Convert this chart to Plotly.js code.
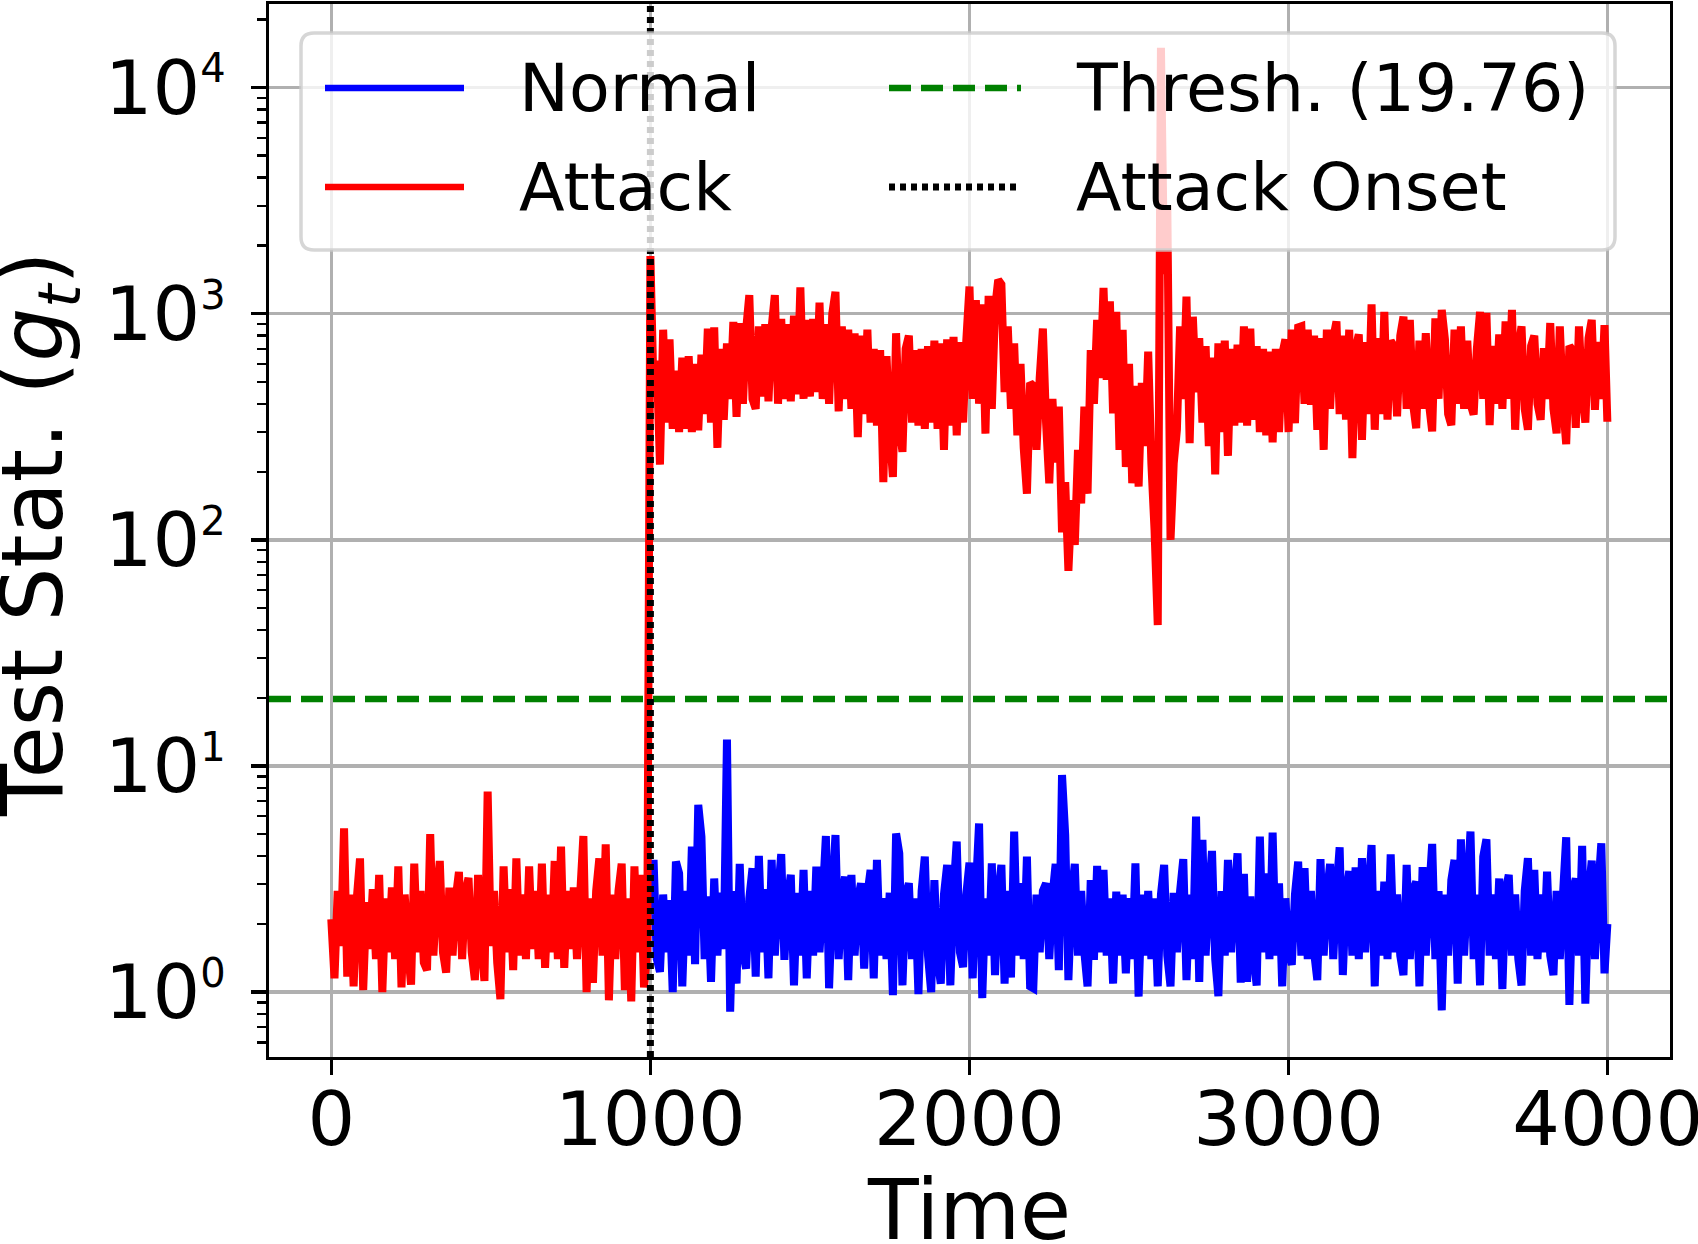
<!DOCTYPE html>
<html>
<head>
<meta charset="utf-8">
<script src="https://cdn.plot.ly/plotly-3.0.1.min.js"></script>
<style>
  html, body { margin: 0; padding: 0; background: #ffffff; }
  #chart { width: 1698px; height: 1244px; }
</style>
</head>
<body>
<div id="chart"></div>
<script>
// ---------------- DATA ----------------
const sampleStep = 10;          // time between stored samples
const attackStart = 0;          // first time of the attack series
const normalStart = 1000;       // first time of the visible normal series
const lastTime = 3999;
const attackOnset = 1000;
const threshold = 19.76;

// Attack series (red), t = 0, 10, ..., 3990, then 3999
const attackValues = [
  // 0 - 990
  2.1, 1.15, 2.8, 1.6, 5.3, 1.17, 2.7, 1.06, 2.6, 3.9,
  1.02, 2.5, 1.55, 2.85, 1.4, 3.3, 1.0, 2.6, 1.5, 2.9,
  1.4, 3.6, 1.05, 2.7, 1.55, 1.08, 3.7, 1.5, 2.8, 1.35,
  1.25, 5.0, 1.45, 2.65, 3.8, 1.5, 1.22, 2.9, 1.45, 2.6,
  3.4, 1.4, 2.75, 3.2, 1.5, 1.13, 3.3, 1.6, 1.12, 7.7,
  1.6, 2.8, 1.35, 0.93, 3.6, 1.5, 2.85, 1.25, 3.9, 1.45,
  2.7, 1.4, 3.6, 1.55, 2.8, 1.4, 3.7, 1.28, 2.7, 1.5,
  3.8, 1.4, 4.4, 1.28, 2.8, 1.55, 2.9, 1.4, 2.7, 4.9,
  1.0, 2.6, 1.1, 2.8, 3.9, 1.45, 4.5, 0.92, 2.7, 1.4,
  2.8, 3.7, 1.02, 2.6, 0.91, 3.6, 1.5, 3.3, 1.05, 1.5,
  // 1000 - 3990
  1800, 450, 620, 215, 850, 330, 770, 310, 560, 300,
  640, 310, 650, 300, 600, 305, 660, 360, 860, 330,
  870, 255, 700, 340, 740, 420, 920, 350, 910, 400,
  850, 1210, 420, 380, 880, 430, 900, 410, 870, 1210,
  400, 950, 420, 900, 410, 980, 440, 1310, 420, 940,
  430, 950, 450, 1120, 420, 900, 400, 1000, 1250, 370,
  880, 420, 850, 380, 820, 285, 800, 360, 850, 330,
  700, 320, 690, 180, 650, 300, 190, 820, 320, 245,
  700, 800, 330, 690, 320, 700, 310, 720, 330, 760,
  310, 740, 250, 770, 320, 790, 290, 750, 330, 760,
  1320, 420, 1150, 400, 1100, 295, 1200, 380, 1050, 1413,
  1350, 450, 880, 380, 740, 290, 600, 255, 160, 495,
  480, 250, 520, 860, 330, 178, 420, 220, 389, 108,
  180, 73, 150, 95, 250, 145, 388, 160, 690, 400,
  940, 520, 1300, 510, 1135, 363, 1020, 250, 850, 210,
  600, 178, 480, 172, 495, 260, 680, 218, 110, 42,
  15000, 1500, 3000, 100, 218, 307, 880, 420, 1190, 268,
  970, 450, 780, 330, 720, 260, 640, 195, 740, 300,
  760, 235, 700, 320, 730, 330, 880, 320, 860, 340,
  720, 300, 700, 290, 680, 270, 700, 300, 660, 770,
  300, 850, 328, 870, 880, 400, 850, 396, 800, 307,
  780, 250, 850, 380, 780, 925, 360, 800, 340, 850,
  230, 700, 810, 277, 750, 360, 1100, 307, 780, 360,
  1020, 340, 760, 720, 352, 800, 970, 380, 940, 400,
  312, 760, 380, 820, 400, 302, 955, 420, 1040, 770,
  360, 322, 850, 400, 880, 380, 760, 400, 358, 700,
  1020, 420, 1010, 322, 720, 400, 810, 380, 925, 420,
  1040, 307, 700, 880, 380, 307, 720, 800, 400, 340,
  705, 420, 910, 380, 296, 880, 400, 265, 720, 690,
  313, 880, 450, 330, 780, 940, 376, 750, 420, 890,
  333
];

// Normal series (blue), t = 1000, 1010, ..., 3990, then 3999
const normalValues = [
  2.2, 3.84, 1.4, 1.23, 2.7, 1.5, 2.55, 1.0, 3.78, 3.35,
  1.06, 2.8, 1.45, 4.40, 1.33, 6.73, 4.87, 1.4, 2.65, 1.11,
  3.18, 1.45, 2.75, 1.55, 13.1, 0.82, 2.8, 1.09, 3.69, 1.5,
  1.27, 2.6, 3.53, 1.17, 4.0, 1.5, 2.85, 1.15, 3.84, 1.45,
  2.7, 4.08, 1.39, 2.55, 3.30, 1.07, 2.75, 1.45, 3.47, 1.15,
  2.8, 1.45, 3.59, 1.5, 2.6, 4.90, 1.04, 2.7, 4.95, 1.4,
  2.6, 3.24, 1.13, 3.30, 1.45, 2.55, 3.03, 1.27, 2.7, 3.47,
  1.15, 3.84, 1.45, 2.6, 1.4, 2.75, 0.97, 5.03, 4.11, 1.07,
  2.7, 3.03, 1.4, 2.6, 0.98, 2.8, 3.97, 1.45, 1.0, 3.13,
  1.4, 1.09, 2.7, 3.65, 1.07, 2.8, 4.63, 1.5, 1.29, 2.7,
  3.74, 1.15, 2.8, 5.57, 0.94, 2.6, 1.45, 3.71, 1.19, 2.7,
  3.65, 1.09, 2.8, 1.16, 5.13, 1.45, 3.03, 1.4, 3.97, 1.06,
  1.04, 2.7, 1.5, 2.8, 3.03, 1.4, 2.65, 3.69, 1.25, 9.12,
  4.95, 1.13, 2.7, 3.69, 1.45, 2.8, 1.5, 1.06, 3.13, 1.39,
  3.62, 1.5, 3.47, 1.45, 2.6, 1.09, 2.78, 1.45, 2.7, 1.21,
  2.6, 1.4, 3.71, 0.955, 2.7, 1.45, 2.8, 1.4, 2.6, 1.06,
  2.7, 3.65, 1.45, 1.06, 2.75, 1.5, 2.8, 3.87, 1.13, 2.7,
  1.4, 5.97, 1.11, 4.71, 1.45, 2.7, 4.21, 1.4, 0.96, 2.8,
  1.45, 3.84, 1.5, 2.7, 4.11, 1.1, 3.33, 1.11, 2.65, 1.45,
  1.07, 4.87, 1.5, 3.35, 1.4, 5.07, 1.45, 3.03, 1.06, 2.6,
  1.5, 1.32, 2.7, 3.78, 1.45, 3.53, 1.4, 2.8, 1.5, 1.13,
  3.87, 1.45, 2.7, 3.69, 1.4, 2.8, 4.37, 1.19, 2.7, 3.43,
  1.45, 3.56, 1.4, 3.91, 1.5, 2.7, 4.47, 1.06, 2.8, 1.45,
  3.08, 1.4, 4.07, 1.5, 2.7, 1.45, 1.19, 3.65, 1.4, 2.8,
  3.08, 1.06, 3.57, 1.45, 2.7, 4.52, 1.4, 2.8, 0.83, 2.7,
  1.45, 3.13, 3.84, 1.09, 4.74, 1.45, 2.8, 5.13, 1.4, 2.7,
  1.07, 3.97, 4.74, 1.45, 2.7, 1.4, 3.18, 1.03, 2.8, 3.30,
  1.45, 2.7, 1.4, 1.07, 2.8, 3.91, 1.45, 3.47, 1.4, 2.7,
  1.5, 3.41, 1.45, 1.19, 2.8, 1.4, 2.7, 4.84, 0.877, 2.8,
  3.18, 1.45, 4.43, 0.89, 2.7, 3.81, 1.4, 2.8, 4.55, 1.21,
  2.0
];

const xTickValues = [0, 1000, 2000, 3000, 4000];
const xTickLabels = ['0', '1000', '2000', '3000', '4000'];
const yTickValues = [1, 10, 100, 1000, 10000];
const yTickExponents = ['0', '1', '2', '3', '4'];
const yMinorTickValues = [0.6, 0.7, 0.8, 0.9,
  2, 3, 4, 5, 6, 7, 8, 9,
  20, 30, 40, 50, 60, 70, 80, 90,
  200, 300, 400, 500, 600, 700, 800, 900,
  2000, 3000, 4000, 5000, 6000, 7000, 8000, 9000,
  20000];

const seriesNames = ['Normal', 'Attack'];
const thresholdLabel = 'Thresh. (' + threshold.toFixed(2) + ')';
const onsetLabel = 'Attack Onset';
const xTitle = 'Time';
const yTitle = 'Test Stat. (<i>g</i><sub><i>t</i></sub>)';

// ---------------- BUILD ----------------
function timesFor(start, n) {
  const t = [];
  for (let i = 0; i < n; i++) t.push(Math.min(start + i * sampleStep, lastTime));
  return t;
}
const attackTimes = timesFor(attackStart, attackValues.length);
const normalTimes = timesFor(normalStart, normalValues.length);

const FONT = 'DejaVu Sans';
const FIG_W = 1698, FIG_H = 1244;
const M = {l: 269, r: 28, t: 4, b: 187};
const PW = FIG_W - M.l - M.r, PH = FIG_H - M.t - M.b;
const px = x => (x - M.l) / PW;
const py = y => 1 - (y - M.t) / PH;

const BLUE = '#0000ff', RED = '#ff0000', GREEN = '#008000';
const LW = 8;

const yTickLabels = yTickExponents.map(e => '10<sup><span style="font-size:40px">' + e + '</span></sup>');

const traces = [
  {x: normalTimes, y: normalValues, type: 'scatter', mode: 'lines', name: seriesNames[0],
   line: {color: BLUE, width: LW, simplify: false}, hoverinfo: 'skip'},
  {x: attackTimes, y: attackValues, type: 'scatter', mode: 'lines', name: seriesNames[1],
   line: {color: RED, width: LW, simplify: false}, hoverinfo: 'skip'}
];

// legend geometry (pixels)
const LB = {x0: 301, x1: 1615, y0: 33, y1: 250, r: 13};
const rowsY = [88, 187];
const cols = [{a: 325, b: 464, tx: 518}, {a: 889, b: 1021, tx: 1075}];

function roundRectPath(b) {
  const X = px, Y = py, r = b.r;
  return 'M' + X(b.x0 + r) + ',' + Y(b.y0) +
    ' L' + X(b.x1 - r) + ',' + Y(b.y0) +
    ' Q' + X(b.x1) + ',' + Y(b.y0) + ' ' + X(b.x1) + ',' + Y(b.y0 + r) +
    ' L' + X(b.x1) + ',' + Y(b.y1 - r) +
    ' Q' + X(b.x1) + ',' + Y(b.y1) + ' ' + X(b.x1 - r) + ',' + Y(b.y1) +
    ' L' + X(b.x0 + r) + ',' + Y(b.y1) +
    ' Q' + X(b.x0) + ',' + Y(b.y1) + ' ' + X(b.x0) + ',' + Y(b.y1 - r) +
    ' L' + X(b.x0) + ',' + Y(b.y0 + r) +
    ' Q' + X(b.x0) + ',' + Y(b.y0) + ' ' + X(b.x0 + r) + ',' + Y(b.y0) + ' Z';
}

const THRESH_LINE = {color: GREEN, width: 6.5, dash: '22px,10px'};
const ONSET_LINE = {color: '#000000', width: 7, dash: '6px,5px'};

const shapes = [
  // threshold
  {type: 'line', xref: 'paper', yref: 'y', x0: 0, x1: 1, y0: threshold, y1: threshold,
   line: THRESH_LINE, layer: 'above'},
  // attack onset
  {type: 'line', xref: 'x', yref: 'paper', x0: attackOnset, x1: attackOnset, y0: 0, y1: 1,
   line: ONSET_LINE, layer: 'above'},
  // legend frame
  {type: 'path', xref: 'paper', yref: 'paper', path: roundRectPath(LB),
   fillcolor: 'rgba(255,255,255,0.8)', line: {color: 'rgba(204,204,204,0.8)', width: 3.5}, layer: 'above'},
  // legend samples
  {type: 'line', xref: 'paper', yref: 'paper', x0: px(cols[0].a), x1: px(cols[0].b), y0: py(rowsY[0]), y1: py(rowsY[0]),
   line: {color: BLUE, width: 6.5}, layer: 'above'},
  {type: 'line', xref: 'paper', yref: 'paper', x0: px(cols[0].a), x1: px(cols[0].b), y0: py(rowsY[1]), y1: py(rowsY[1]),
   line: {color: RED, width: 6.5}, layer: 'above'},
  {type: 'line', xref: 'paper', yref: 'paper', x0: px(cols[1].a), x1: px(cols[1].b), y0: py(rowsY[0]), y1: py(rowsY[0]),
   line: THRESH_LINE, layer: 'above'},
  {type: 'line', xref: 'paper', yref: 'paper', x0: px(cols[1].a), x1: px(cols[1].b), y0: py(rowsY[1]), y1: py(rowsY[1]),
   line: ONSET_LINE, layer: 'above'}
];

const legendFont = {family: FONT, size: 66.7, color: '#000000'};
const annotations = [
  {text: seriesNames[0], x: px(cols[0].tx), y: py(rowsY[0])},
  {text: seriesNames[1], x: px(cols[0].tx), y: py(rowsY[1])},
  {text: thresholdLabel, x: px(cols[1].tx), y: py(rowsY[0])},
  {text: onsetLabel, x: px(cols[1].tx), y: py(rowsY[1])}
].map(a => Object.assign(a, {xref: 'paper', yref: 'paper', xanchor: 'left', yanchor: 'middle',
  showarrow: false, font: legendFont, borderpad: 0}));

// axis titles
annotations.push({text: xTitle, xref: 'paper', yref: 'paper', x: px(969), y: py(1210),
  xanchor: 'center', yanchor: 'middle', showarrow: false, borderpad: 0,
  font: {family: FONT, size: 83, color: '#000000'}});
annotations.push({text: yTitle, xref: 'paper', yref: 'paper', x: px(38), y: py(534),
  xanchor: 'center', yanchor: 'middle', textangle: -90, showarrow: false, borderpad: 0,
  font: {family: FONT, size: 85, color: '#000000'}});

const layout = {
  width: FIG_W, height: FIG_H,
  margin: M,
  paper_bgcolor: '#ffffff', plot_bgcolor: '#ffffff',
  showlegend: false,
  font: {family: FONT, color: '#000000'},
  xaxis: {
    range: [-195.2, 4195.3],
    tickmode: 'array', tickvals: xTickValues, ticktext: xTickLabels,
    ticks: 'outside', ticklen: 15, tickwidth: 3.3, tickcolor: '#000000',
    ticklabelstandoff: -20, ticklabeloverflow: 'allow',
    showline: true, linecolor: '#000000', linewidth: 3.3, mirror: true,
    showgrid: true, gridcolor: '#b0b0b0', gridwidth: 3.3, zeroline: false,
    tickfont: {family: FONT, size: 75, color: '#000000'},
    automargin: false
  },
  yaxis: {
    type: 'log',
    range: [-0.287, 4.370],
    tickmode: 'array', tickvals: yTickValues, ticktext: yTickLabels,
    ticks: 'outside', ticklen: 15, tickwidth: 3.3, tickcolor: '#000000',
    ticklabelstandoff: 10,
    minor: {tickmode: 'array', tickvals: yMinorTickValues, ticks: 'outside', ticklen: 8.3,
            tickwidth: 2.5, tickcolor: '#000000', showgrid: false},
    showline: true, linecolor: '#000000', linewidth: 3.3, mirror: true,
    showgrid: true, gridcolor: '#b0b0b0', gridwidth: 3.3, zeroline: false,
    tickfont: {family: FONT, size: 75, color: '#000000'},
    automargin: false
  },
  shapes: shapes,
  annotations: annotations
};

Plotly.newPlot('chart', traces, layout, {displayModeBar: false, staticPlot: true});
</script>
</body>
</html>
